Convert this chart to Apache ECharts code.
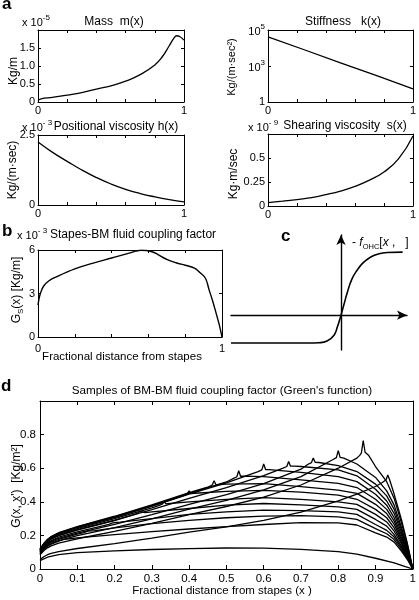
<!DOCTYPE html>
<html><head><meta charset="utf-8">
<script src="https://cdn.jsdelivr.net/npm/echarts@6/dist/echarts.min.js"></script>
<style>html,body{margin:0;padding:0;background:#fff}#c{width:419px;height:600px}</style>
</head><body><div id="c"></div>
<script>
// ---------- data ----------
const massX = [0, 0.02, 0.1, 0.2, 0.3, 0.4, 0.5, 0.6, 0.7, 0.8, 0.85, 0.9, 0.93, 0.95, 0.97, 1.0];
const massY = [0.04, 0.09, 0.13, 0.19, 0.26, 0.36, 0.45, 0.58, 0.76, 1.03, 1.25, 1.57, 1.77, 1.84, 1.82, 1.72];
const stiffX = [0, 0.25, 0.5, 0.75, 1];
const stiffY = [42000, 8000, 1500, 290, 54];
const hX = [0, 0.1, 0.2, 0.3, 0.4, 0.5, 0.6, 0.7, 0.8, 0.9, 1];
const hY = [2.25, 1.88, 1.56, 1.25, 0.98, 0.75, 0.56, 0.41, 0.29, 0.19, 0.11];
const sX = [0, 0.1, 0.2, 0.3, 0.4, 0.5, 0.6, 0.7, 0.8, 0.9, 1];
const sY = [0.035, 0.05, 0.066, 0.087, 0.118, 0.155, 0.205, 0.27, 0.355, 0.49, 0.73];
const gsX = [0, 0.005, 0.013, 0.03, 0.058, 0.1, 0.2, 0.3, 0.4, 0.5, 0.53, 0.56, 0.59, 0.62, 0.65, 0.7, 0.75, 0.8, 0.85, 0.88, 0.91, 0.93, 0.95, 0.97, 0.985, 1];
const gsY = [2.2, 2.6, 3.0, 3.5, 3.86, 4.15, 4.7, 5.1, 5.45, 5.8, 5.92, 5.98, 5.97, 5.88, 5.7, 5.35, 5.12, 4.95, 4.75, 4.45, 4.05, 3.25, 2.45, 1.55, 0.85, 0];
const sigX = [-1.5, -0.45, -0.3, -0.19, -0.095, -0.05, 0, 0.05, 0.087, 0.15, 0.22, 0.3, 0.4, 0.5, 0.63, 0.84];
const sigY = [-0.4, -0.4, -0.395, -0.37, -0.287, -0.17, 0, 0.19, 0.33, 0.52, 0.645, 0.75, 0.83, 0.875, 0.9, 0.905];

const greenBottom = [[0,.05],[.01,.06],[.02,.07],[.05,.085],[.1,.098],[.2,.108],[.3,.116],[.4,.121],[.5,.125],[.6,.124],[.7,.117],[.8,.104],[.85,.088],[.9,.064],[.95,.036],[.98,.014],[1,0]];
const green01 = [[0,.09],[.01,.116],[.02,.135],[.03,.148],[.05,.166],[.055,.168],[.062,.175],[.067,.184],[.072,.178],[.08,.18],[.1,.185],[.2,.205],[.3,.222],[.4,.238],[.5,.252],[.6,.265],[.7,.276],[.8,.275],[.85,.262],[.9,.215],[.93,.19],[.95,.16],[.97,.105],[.985,.058],[1,0]];
const green02 = [[0,.097],[.01,.124],[.02,.145],[.03,.159],[.05,.177],[.1,.207],[.118,.217],[.128,.225],[.133,.234],[.138,.227],[.148,.229],[.2,.245],[.3,.27],[.4,.29],[.5,.305],[.6,.315],[.7,.318],[.8,.31],[.85,.295],[.9,.24],[.93,.21],[.95,.175],[.97,.115],[.985,.064],[1,0]];
const green03 = [[0,.103],[.01,.132],[.02,.154],[.03,.169],[.05,.189],[.1,.221],[.185,.266],[.195,.275],[.2,.285],[.205,.277],[.215,.279],[.3,.30],[.4,.325],[.5,.34],[.6,.35],[.7,.348],[.8,.34],[.85,.325],[.9,.265],[.93,.23],[.95,.19],[.97,.125],[.985,.07],[1,0]];
const green04 = [[0,.108],[.01,.139],[.02,.162],[.03,.178],[.05,.198],[.1,.232],[.2,.288],[.252,.323],[.262,.331],[.267,.343],[.272,.333],[.282,.336],[.3,.34],[.4,.36],[.5,.38],[.6,.39],[.7,.382],[.8,.37],[.85,.355],[.9,.295],[.93,.255],[.95,.205],[.97,.135],[.985,.075],[1,0]];
const green05 = [[0,.112],[.01,.144],[.02,.169],[.03,.185],[.05,.206],[.1,.241],[.2,.30],[.3,.364],[.318,.377],[.328,.386],[.333,.40],[.338,.388],[.348,.39],[.4,.40],[.5,.415],[.6,.425],[.7,.415],[.8,.40],[.85,.385],[.9,.325],[.93,.28],[.95,.225],[.97,.148],[.985,.082],[1,0]];
const green06 = [[0,.116],[.01,.149],[.02,.173],[.03,.19],[.05,.212],[.1,.248],[.2,.308],[.3,.374],[.385,.437],[.395,.447],[.4,.465],[.405,.449],[.415,.451],[.5,.462],[.6,.468],[.7,.458],[.8,.44],[.85,.415],[.9,.355],[.93,.305],[.95,.245],[.97,.16],[.985,.088],[1,0]];
const green07 = [[0,.118],[.01,.151],[.02,.176],[.03,.193],[.05,.216],[.1,.252],[.2,.314],[.3,.381],[.4,.454],[.452,.489],[.462,.50],[.467,.525],[.472,.502],[.482,.503],[.5,.505],[.6,.508],[.7,.49],[.8,.47],[.85,.45],[.9,.385],[.93,.33],[.95,.265],[.97,.172],[.985,.095],[1,0]];
const green08 = [[0,.117],[.01,.15],[.02,.175],[.03,.192],[.05,.214],[.1,.25],[.2,.311],[.3,.378],[.4,.45],[.5,.518],[.518,.538],[.528,.549],[.533,.585],[.538,.552],[.548,.553],[.6,.55],[.7,.53],[.8,.51],[.85,.485],[.9,.415],[.93,.355],[.95,.285],[.97,.185],[.985,.102],[1,0]];
const green09 = [[0,.116],[.01,.149],[.02,.173],[.03,.19],[.05,.212],[.1,.248],[.2,.308],[.3,.374],[.4,.446],[.5,.512],[.585,.58],[.595,.59],[.6,.625],[.605,.592],[.615,.592],[.7,.575],[.8,.55],[.85,.52],[.9,.445],[.93,.38],[.95,.305],[.97,.2],[.985,.11],[1,0]];
const green10 = [[0,.109],[.01,.14],[.02,.164],[.03,.179],[.05,.20],[.1,.234],[.2,.291],[.3,.354],[.4,.421],[.5,.484],[.6,.556],[.652,.60],[.662,.61],[.667,.64],[.672,.612],[.682,.612],[.7,.61],[.8,.59],[.85,.555],[.9,.475],[.93,.405],[.95,.33],[.97,.215],[.985,.118],[1,0]];
const green11 = [[0,.10],[.01,.128],[.02,.15],[.03,.164],[.05,.183],[.1,.214],[.2,.266],[.3,.323],[.4,.385],[.5,.442],[.6,.508],[.7,.594],[.718,.622],[.728,.633],[.733,.66],[.738,.635],[.748,.634],[.8,.615],[.85,.58],[.9,.505],[.93,.435],[.95,.355],[.97,.23],[.985,.126],[1,0]];
const green12 = [[0,.092],[.01,.119],[.02,.139],[.03,.152],[.05,.169],[.1,.198],[.2,.246],[.3,.299],[.4,.356],[.5,.409],[.6,.471],[.7,.55],[.785,.65],[.795,.663],[.8,.705],[.805,.665],[.815,.66],[.85,.625],[.9,.545],[.93,.465],[.95,.38],[.97,.245],[.985,.135],[1,0]];
const green13 = [[0,.084],[.01,.108],[.02,.126],[.03,.138],[.05,.154],[.1,.18],[.2,.224],[.3,.272],[.4,.324],[.5,.372],[.6,.428],[.7,.50],[.8,.60],[.85,.66],[.857,.675],[.862,.69],[.867,.765],[.872,.695],[.882,.675],[.9,.61],[.93,.52],[.95,.42],[.97,.27],[.985,.15],[1,0]];
const green14 = [[0,.057],[.01,.073],[.02,.085],[.03,.093],[.05,.104],[.1,.122],[.2,.151],[.3,.184],[.4,.219],[.5,.251],[.6,.289],[.7,.338],[.8,.405],[.85,.446],[.9,.491],[.918,.515],[.928,.53],[.933,.56],[.938,.53],[.948,.46],[.97,.29],[.985,.155],[1,0]];

// tick labels that are shown
const massYLabels = [0, 0.5, 1.0, 1.5];
const unitXLabels = [0, 1];
const hYLabels = [0, 2.5];
const sYLabels = [0, 0.25, 0.5];
const gsYLabels = [0, 3, 6];
const dYLabels = [0, 0.2, 0.4, 0.6, 0.8];
const dXLabels = [0, 0.1, 0.2, 0.3, 0.4, 0.5, 0.6, 0.7, 0.8, 0.9, 1];

// ---------- helpers ----------
const FONT = '"Liberation Sans", Arial, Helvetica, sans-serif';
const zip = (xs, ys) => xs.map((x, i) => [x, ys[i]]);
const has = (list, v) => list.some(t => Math.abs(t - v) < 1e-6);
function fmtList(list, dec) {
  return v => has(list, v) ? (Math.abs(v) < 1e-9 ? '0' : (Math.abs(v - Math.round(v)) < 1e-9 && dec === 0 ? String(Math.round(v)) : v.toFixed(dec))) : '';
}
function mkAxis(gi, pos, o) {
  const main = pos === 'bottom' || pos === 'left';
  return {
    type: o.type || 'value', logBase: 10, gridIndex: gi, position: pos,
    min: o.min, max: o.max, interval: o.interval,
    axisLine: { show: true, onZero: false, lineStyle: { color: '#000', width: 1 } },
    axisTick: { show: true, inside: true, length: o.tick || 3, lineStyle: { color: '#000', width: 1 } },
    axisLabel: { show: main && !!o.fmt, formatter: o.fmt, color: '#000', fontSize: o.fs || 11,
                 fontFamily: FONT, margin: o.margin == null ? 3 : o.margin, showMinLabel: true, showMaxLabel: true,
                 rich: o.rich },
    splitLine: { show: false }
  };
}
const xAxes = [], yAxes = [];
function boxAxes(gi, xo, yo) {
  xAxes.push(mkAxis(gi, 'bottom', xo));
  xAxes.push(mkAxis(gi, 'top', Object.assign({}, xo, { fmt: null })));
  yAxes.push(mkAxis(gi, 'left', yo));
  yAxes.push(mkAxis(gi, 'right', Object.assign({}, yo, { fmt: null })));
}
const grids = [
  { left: 38, top: 30, width: 146, height: 72 },
  { left: 268, top: 30, width: 148, height: 72 },
  { left: 38, top: 135, width: 146, height: 70 },
  { left: 268, top: 134, width: 148, height: 72 },
  { left: 38, top: 250, width: 184, height: 87 },
  { left: 231, top: 235, width: 176, height: 115 },
  { left: 40, top: 401, width: 376, height: 168 }
];
const unitFmt = fmtList(unitXLabels, 0);
const supRich = { b: { fontSize: 11, fontFamily: FONT, color: '#000', lineHeight: 14, verticalAlign: 'bottom' },
                  p: { fontSize: 8, fontFamily: FONT, color: '#000', lineHeight: 14, verticalAlign: 'top' } };
boxAxes(0, { min: 0, max: 1, interval: 0.2, fmt: unitFmt }, { min: 0, max: 2, interval: 0.5, fmt: fmtList(massYLabels, 1) });
boxAxes(1, { min: 0, max: 1, interval: 0.2, fmt: unitFmt },
  { type: 'log', min: 10, max: 100000, interval: 2, rich: supRich,
    fmt: v => v > 99999 ? '{b|10}{p|5}' : (Math.abs(v - 1000) < 1 ? '{b|10}{p|3}' : (Math.abs(v - 10) < 0.01 ? '1' : '')) });
boxAxes(2, { min: 0, max: 1, interval: 0.2, fmt: unitFmt }, { min: 0, max: 2.5, interval: 2.5, fmt: fmtList(hYLabels, 1) });
boxAxes(3, { min: 0, max: 1, interval: 0.2, fmt: unitFmt }, { min: 0, max: 0.75, interval: 0.25, fmt: v => has(sYLabels, v) ? (v === 0 ? '0' : String(+v.toFixed(2))) : '' });
boxAxes(4, { min: 0, max: 1, interval: 0.2, fmt: unitFmt, margin: 6 }, { min: 0, max: 6, interval: 3, fmt: fmtList(gsYLabels, 0) });
// panel c: arrow axes through the origin
const arrowLine = { show: true, onZero: true, symbol: ['none', 'arrow'], symbolSize: [7, 10], lineStyle: { color: '#000', width: 1.4 } };
xAxes.push({ type: 'value', gridIndex: 5, min: -1.5, max: 0.9, axisLine: arrowLine, axisTick: { show: false }, axisLabel: { show: false }, splitLine: { show: false } });
xAxes.push({ type: 'value', gridIndex: 5, min: -1.5, max: 0.9, show: false });
yAxes.push({ type: 'value', gridIndex: 5, min: -0.5, max: 1.15, axisLine: arrowLine, axisTick: { show: false }, axisLabel: { show: false }, splitLine: { show: false } });
yAxes.push({ type: 'value', gridIndex: 5, min: -0.5, max: 1.15, show: false });
boxAxes(6, { min: 0, max: 1, interval: 0.1, tick: 4, fs: 11.5, margin: 4, fmt: v => has(dXLabels, v) ? (v === 0 ? '0' : (Math.abs(v - 1) < 1e-9 ? '1' : v.toFixed(1))) : '' },
           { min: 0, max: 1, interval: 0.2, tick: 4, fs: 11.5, margin: 4, fmt: fmtList(dYLabels, 1) });

function line(gi, data, smooth, w) {
  return { type: 'line', xAxisIndex: gi * 2, yAxisIndex: gi * 2, data: data, showSymbol: false, symbol: 'none',
           smooth: smooth || false, silent: true, animation: false,
           lineStyle: { color: '#000', width: w || 1.3 } };
}
const series = [
  line(0, zip(massX, massY), true),
  line(1, zip(stiffX, stiffY), false),
  line(2, zip(hX, hY), true),
  line(3, zip(sX, sY), true),
  line(4, zip(gsX, gsY), 0.4, 1.4),
  line(5, zip(sigX, sigY), true, 1.6)
];
[greenBottom, green01, green02, green03, green04, green05, green06, green07, green08, green09, green10, green11, green12, green13, green14]
  .forEach(d => series.push(line(6, d, false, 1.3)));

// ---------- texts ----------
function txt(x, y, text, o) {
  o = o || {};
  return { type: 'text', x: x, y: y, rotation: o.rot || 0, silent: true,
           style: { text: text, fill: '#000', font: (o.bold ? 'bold ' : '') + (o.size || 12) + 'px ' + FONT,
                    align: o.align || 'center', verticalAlign: o.va || 'middle', rich: o.rich } };
}
const expRich = { a: { fontSize: 11, fontFamily: FONT, fill: '#000', lineHeight: 15, verticalAlign: 'bottom' },
                  b: { fontSize: 8, fontFamily: FONT, fill: '#000', lineHeight: 15, verticalAlign: 'top' } };
function expo(x, y, p) { return txt(x, y, '{a|x 10}{b|' + p + '}', { align: 'left', rich: expRich }); }
const subRich = { n: { fontSize: 12, fontFamily: FONT, fill: '#000', verticalAlign: 'middle', lineHeight: 15 },
                  s: { fontSize: 8, fontFamily: FONT, fill: '#000', verticalAlign: 'bottom', lineHeight: 15 } };
const graphic = [
  txt(2, 4, 'a', { bold: true, size: 17, align: 'left' }),
  txt(2, 231, 'b', { bold: true, size: 17, align: 'left' }),
  txt(281, 236, 'c', { bold: true, size: 17, align: 'left' }),
  txt(1, 386, 'd', { bold: true, size: 17, align: 'left' }),
  txt(114, 22, 'Mass  m(x)'),
  expo(22, 21, '-5'),
  txt(343, 22, 'Stiffness   k(x)'),
  expo(22, 126, '- 3'),
  txt(116, 127, 'Positional viscosity h(x)'),
  expo(248, 126, '- 9'),
  txt(345, 126, 'Shearing viscosity  s(x)'),
  expo(17, 234, '- 3'),
  txt(50, 235, 'Stapes-BM fluid coupling factor', { align: 'left' }),
  txt(122, 357, 'Fractional distance from stapes', { size: 11.5 }),
  txt(222, 391, 'Samples of BM-BM fluid coupling factor (Green\'s function)', { size: 11.7 }),
  txt(222, 591, 'Fractional distance from stapes (x )', { size: 11.5 }),
  txt(14, 71, 'Kg/m', { rot: Math.PI / 2 }),
  txt(232, 67, 'Kg/(m·sec²)', { rot: Math.PI / 2, size: 11 }),
  txt(13, 170, 'Kg/(m·sec)', { rot: Math.PI / 2 }),
  txt(234, 174, 'Kg·m/sec', { rot: Math.PI / 2 }),
  txt(17, 290, '{n|G}{s|S}{n|(x) [Kg/m]}', { rot: Math.PI / 2, rich: subRich }),
  txt(17, 486, 'G(x, x\')  [Kg/m²]', { rot: Math.PI / 2 }),
  txt(352, 243, '{n|- }{i|f}{s|OHC}{n|[}{i|x}{n| ,   ]}', { align: 'left', rich: {
      n: { fontSize: 12, fontFamily: FONT, fill: '#000', verticalAlign: 'middle', lineHeight: 15 },
      i: { fontSize: 12, fontStyle: 'italic', fontFamily: FONT, fill: '#000', verticalAlign: 'middle', lineHeight: 15 },
      s: { fontSize: 7.5, fontFamily: FONT, fill: '#000', verticalAlign: 'bottom', lineHeight: 15 } } })
];

const chart = echarts.init(document.getElementById('c'), null, { renderer: 'canvas' });
chart.setOption({
  animation: false,
  backgroundColor: '#fff',
  textStyle: { fontFamily: FONT },
  grid: grids,
  xAxis: xAxes,
  yAxis: yAxes,
  series: series,
  graphic: graphic
});
</script></body></html>
